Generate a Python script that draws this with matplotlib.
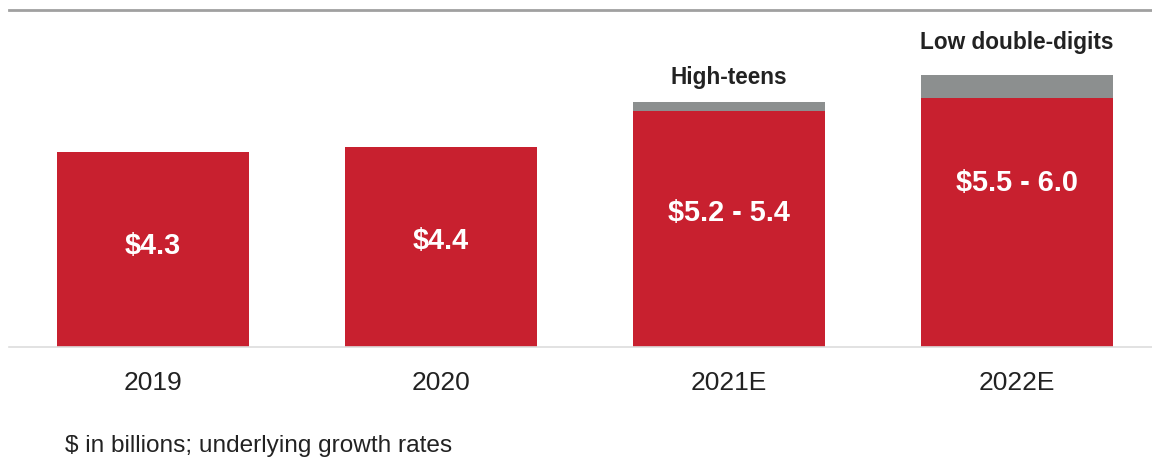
import matplotlib
matplotlib.use("Agg")
import matplotlib.pyplot as plt

plt.rcParams['font.family'] = ['Liberation Sans', 'DejaVu Sans']

# Data ($ in billions)
years = ["2019", "2020", "2021E", "2022E"]
base_values = [4.3, 4.4, 5.2, 5.5]          # low end of the range (red)
range_extra = [0.0, 0.0, 0.2, 0.5]          # width of the guidance range (gray)
value_labels = ["$4.3", "$4.4", "$5.2 - 5.4", "$5.5 - 6.0"]
growth_labels = ["", "", "High-teens", "Low double-digits"]
footnote = "$ in billions; underlying growth rates"

RED = "#C8202F"
GRAY = "#8C8F8F"
TEXT = "#222222"

W, H = 1152, 458
fig = plt.figure(figsize=(W / 100, H / 100), dpi=100)

# axes placed in pixel terms: baseline at y=347 px, top rule at y=10 px
left_px, right_px = 9, 1152
top_px, base_px = 10, 347
ax = fig.add_axes([left_px / W, (H - base_px) / H,
                   (right_px - left_px) / W, (base_px - top_px) / H])

x = list(range(len(years)))
bar_w = 0.667
ax.bar(x, base_values, width=bar_w, color=RED, zorder=2)
ax.bar(x, range_extra, width=bar_w, bottom=base_values, color=GRAY, zorder=2)

ax.set_xlim(-0.5, 3.47)
ax.set_ylim(0, 7.43)

# value labels inside red bars (vertical position as fraction of bar height)
label_frac = [0.52, 0.53, 0.567, 0.658]
for xi, v, lab, f in zip(x, base_values, value_labels, label_frac):
    ax.text(xi, v * f, lab, ha="center", va="center", color="white",
            fontsize=20.8, fontweight="bold", zorder=3)

# growth-rate annotations above the bars
label_offsets = [0, 0, 9.5, 15]
for xi, v, e, lab, off in zip(x, base_values, range_extra, growth_labels, label_offsets):
    if lab:
        ax.annotate(lab, xy=(xi, v + e), xytext=(0, off), textcoords="offset points",
                    ha="center", va="bottom", color=TEXT, fontsize=16.3,
                    fontweight="bold")

ax.set_xticks(x)
ax.set_xticklabels(years, fontsize=19, color=TEXT)
ax.tick_params(axis="x", length=0, pad=17)
ax.set_yticks([])

for s in ["left", "right"]:
    ax.spines[s].set_visible(False)
ax.spines["top"].set_color("#A0A0A0")
ax.spines["top"].set_linewidth(2)
ax.spines["bottom"].set_color("#DDDDDD")
ax.spines["bottom"].set_linewidth(1.2)

fig.text(65 / W, 1 - 446 / H, footnote, ha="left", va="center",
         fontsize=17.6, color=TEXT)

fig.savefig("out.png", dpi=100, facecolor="white")
